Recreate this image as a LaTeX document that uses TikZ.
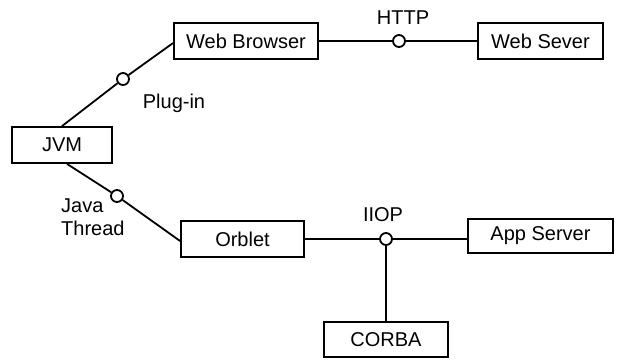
\documentclass[tikz,border=0pt]{standalone}
\usepackage{fontspec}
\setmainfont{Liberation Sans}
\begin{document}
\begin{tikzpicture}[x=1pt,y=-1pt,
  every node/.style={font=\fontsize{20}{23}\selectfont},
  box/.style={draw,line width=1.8pt,inner sep=0pt},
  port/.style={circle,draw,line width=1.8pt,fill=white,inner sep=0pt,minimum size=12pt},
  link/.style={line width=1.8pt},
  tag/.style={inner sep=0pt}]
\useasboundingbox (0,0) rectangle (617,360);
% component boxes
\node[box,minimum width=144pt,minimum height=36pt] (wb) at (246,41) {Web Browser};
\node[box,minimum width=125pt,minimum height=36pt] (ws) at (540.5,41) {Web Sever};
\node[box,minimum width=100pt,minimum height=36pt] (jvm) at (62,145) {JVM};
\node[box,minimum width=123pt,minimum height=36pt] (orb) at (242.5,239) {Orblet};
\node[box,minimum width=145pt,minimum height=34pt] (app) at (540.5,236) {App Server};
\node[box,minimum width=124pt,minimum height=35pt] (corba) at (386,339.5) {CORBA};
% interface ports
\node[port] (plug) at (123,79) {};
\node[port] (http) at (399,41) {};
\node[port] (thr) at (117,196) {};
\node[port] (iiop) at (386,239) {};
% connectors
\draw[link] (jvm.north) -- (plug) -- ([yshift=-2pt]wb.west);
\draw[link] (wb.east) -- (http) -- (ws.west);
\draw[link] ([xshift=5pt]jvm.south) -- (thr) -- ([yshift=-2pt]orb.west);
\draw[link] (orb.east) -- (iiop) -- (app.west |- iiop);
\draw[link] (iiop) -- (corba.north);
% labels
\node[tag] (lhttp) at (403,18) {HTTP};
\node[tag] (lplug) at (174,103) {Plug-in};
\node[tag] (liiop) at (383,215) {IIOP};
\node[tag,anchor=west,align=left] (lthr) at (61,217) {Java\\Thread};
\end{tikzpicture}
\end{document}
